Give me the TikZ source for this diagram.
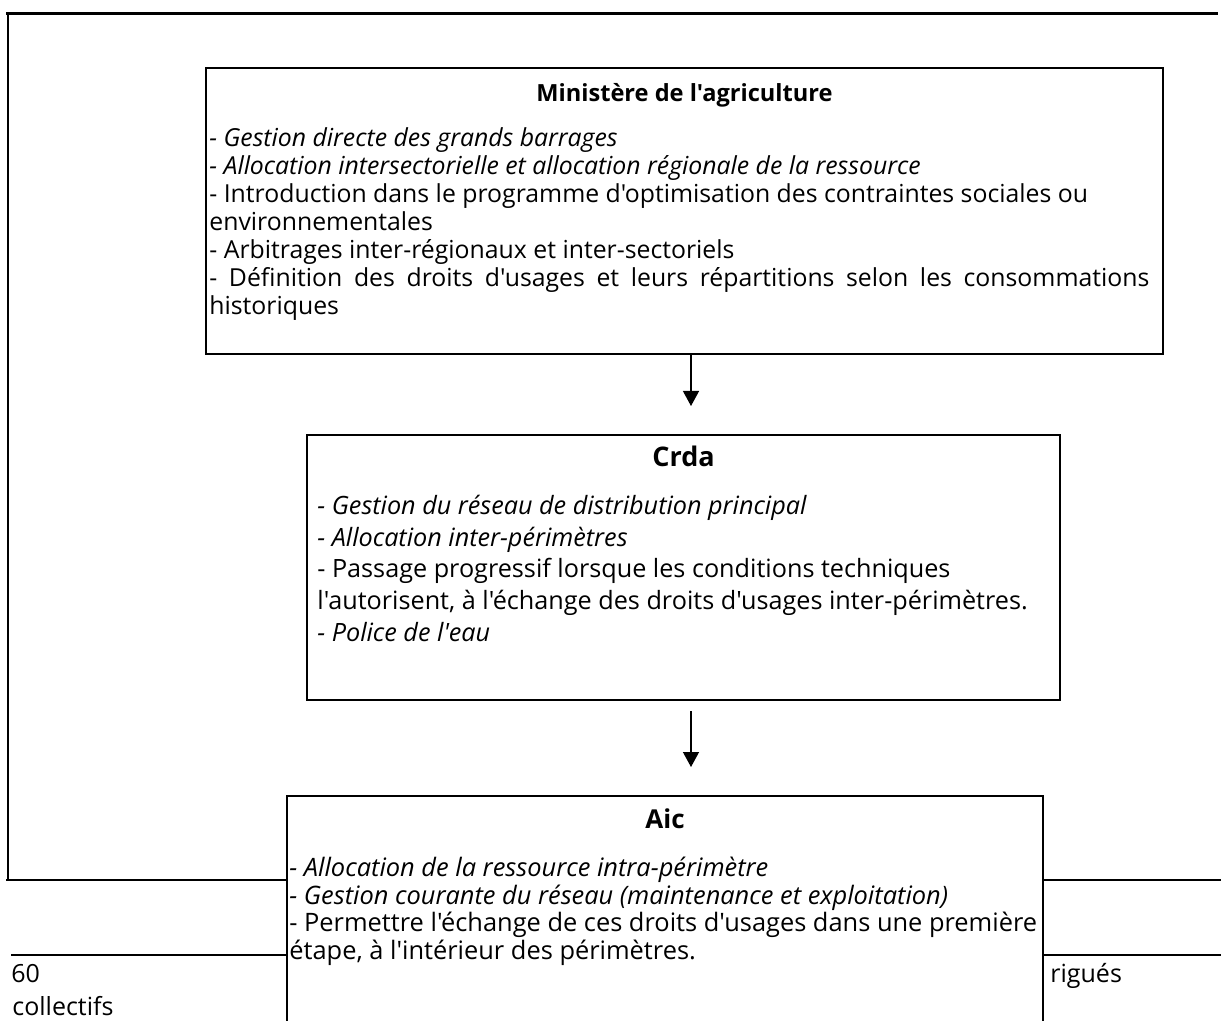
\documentclass[tikz,border=0pt]{standalone}
\usepackage{fontspec}
\newfontfamily\pagefont{Open Sans}
\usetikzlibrary{arrows.meta,positioning}

\tikzset{
	box/.style={draw, line width=1pt, fill=white, inner sep=0pt},
	title/.style={inner sep=0pt, anchor=north},
	body/.style={inner sep=0pt, align=left, anchor=north west},
	flow/.style={-{Triangle[length=7.5pt,width=8pt]}, line width=0.65pt},
	foot/.style={inner sep=0pt, anchor=base west, font=\fontsize{12.5}{14}\selectfont}
}

\begin{document}
\pagefont
\begin{tikzpicture}[x=0.5pt,y=-0.5pt]
	\clip (0,0) rectangle (1221,1021);
	\fill[white] (0,0) rectangle (1221,1021);
	
	% page frame and footer
	\draw[line width=1.5pt] (6,14) -- (1218,14);
	\draw[line width=1pt] (8,14) -- (8,880);
	\draw[line width=1pt] (6,880) -- (1221,880);
	\draw[line width=0.65pt] (11,955) -- (1221,955);
	\node[foot] (page) at (11,982) {60};
	\node[foot] (coll) at (12,1015) {collectifs};
	\node[foot] (irr) at (1050,982) {rigués};
	
	% the three levels
	\node[box, minimum width=478.5pt, minimum height=143pt] (min) at (684.5,211) {};
	\node[box, minimum width=376.5pt, minimum height=132.5pt] (crda) at (683.5,567.5) {};
	\node[box, minimum width=378pt, minimum height=120pt] (aic) at (665,916) {};
	
	\node[title, font=\bfseries\fontsize{11.8}{13}\selectfont, below=8pt of min.north] (mint) {Ministère de l'agriculture};
	\node[title, font=\bfseries\fontsize{13.5}{16}\selectfont, below=6pt of crda.north] (crdat) {Crda};
	\node[title, font=\bfseries\fontsize{13}{16}\selectfont, below=6.5pt of aic.north] (aict) {Aic};
	
	\node[body, font=\fontsize{12.4}{14}\selectfont, below right=30pt and 2pt of min.north west] (minb) {%
		\textit{- Gestion directe des grands barrages}\\
		\textit{- Allocation intersectorielle et allocation régionale de la ressource}\\
		- Introduction dans le programme d'optimisation des contraintes sociales ou\\
		environnementales\\
		- Arbitrages inter-régionaux et inter-sectoriels\\
		\makebox[470pt][s]{- Définition des droits d'usages et leurs répartitions selon les consommations}\\
		historiques};
	
	\node[body, font=\fontsize{12.6}{15.8}\selectfont, below right=30.5pt and 5.5pt of crda.north west] (crdab) {%
		\textit{- Gestion du réseau de distribution principal}\\
		\textit{- Allocation inter-périmètres}\\
		- Passage progressif lorsque les conditions techniques\\
		l'autorisent, à l'échange des droits d'usages inter-périmètres.\\
		\textit{- Police de l'eau}};
	
	\node[body, font=\fontsize{12.7}{12.6}\selectfont, below right=31pt and 1.5pt of aic.north west] (aicb) {%
		\textit{- Allocation de la ressource intra-périmètre}\\
		\textit{- Gestion courante du réseau (maintenance et exploitation)}\\
		- Permettre l'échange de ces droits d'usages dans une première\\
		étape, à l'intérieur des périmètres.};
	
	\draw[flow, shorten >=14pt] ([xshift=3.25pt]min.south) -- ([xshift=3.75pt]crda.north);
	\draw[flow, shorten <=5pt, shorten >=14pt] ([xshift=3.75pt]crda.south) -- ([xshift=13pt]aic.north);
\end{tikzpicture}
\end{document}
